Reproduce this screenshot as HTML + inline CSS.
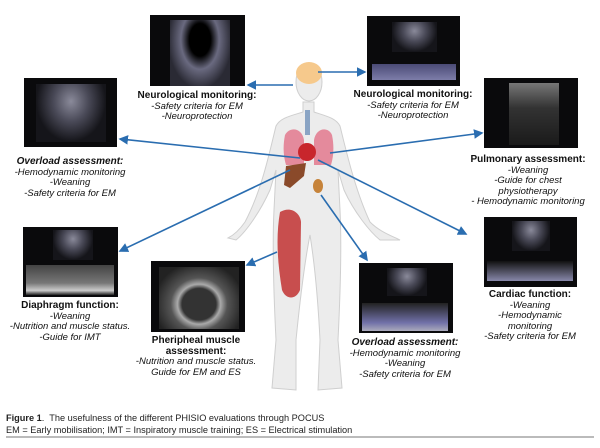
<!DOCTYPE html>
<html><head><meta charset="utf-8"><style>
html,body{margin:0;padding:0;background:#fff;}
#c{position:relative;width:600px;height:448px;overflow:hidden;background:#fff;font-family:"Liberation Sans",Arial,sans-serif;}
.img{position:absolute;background:#0a0a0c;overflow:hidden;}
.fan{position:absolute;background:radial-gradient(ellipse at 50% 30%,#8a8a9a 0%,#4a4a58 35%,#15151a 70%);}
.lbl{position:absolute;text-align:center;font-size:9.5px;line-height:10.6px;color:#111;font-style:italic;white-space:nowrap;}
.lbl b{font-style:normal;font-weight:bold;display:block;font-size:10px;}
.lbl b.i{font-style:italic;}
.cap{position:absolute;left:6px;font-size:9.2px;color:#222;}
</style></head><body><div id="c">

<!-- ultrasound images -->
<div class="img" style="left:150px;top:15px;width:95px;height:71px;">
 <div class="fan" style="left:20px;top:5px;width:60px;height:66px;background:radial-gradient(ellipse at 50% 30%,#000 0 25%,#6a6a80 45%,#2a2a34 75%);"></div></div>
<div class="img" style="left:367px;top:16px;width:93px;height:70px;">
 <div class="fan" style="left:25px;top:6px;width:45px;height:30px;"></div>
 <div style="position:absolute;left:5px;top:48px;width:84px;height:16px;background:linear-gradient(#5a5a90,#9a9ad0);opacity:.8"></div></div>
<div class="img" style="left:24px;top:78px;width:93px;height:69px;">
 <div class="fan" style="left:12px;top:6px;width:70px;height:58px;"></div></div>
<div class="img" style="left:484px;top:78px;width:94px;height:70px;">
 <div class="fan" style="left:25px;top:5px;width:50px;height:62px;background:linear-gradient(#777,#333 40%,#1a1a1a);"></div></div>
<div class="img" style="left:23px;top:227px;width:95px;height:70px;">
 <div class="fan" style="left:30px;top:3px;width:40px;height:30px;"></div>
 <div style="position:absolute;left:3px;top:38px;width:88px;height:30px;background:linear-gradient(#444,#777 60%,#ccc 85%,#222);"></div></div>
<div class="img" style="left:151px;top:261px;width:94px;height:71px;">
 <div class="fan" style="left:8px;top:6px;width:80px;height:62px;background:radial-gradient(ellipse at 50% 60%,#333 0 30%,#aaa 38%,#555 50%,#222 80%);"></div></div>
<div class="img" style="left:359px;top:263px;width:94px;height:70px;">
 <div class="fan" style="left:28px;top:5px;width:40px;height:28px;"></div>
 <div style="position:absolute;left:3px;top:40px;width:86px;height:28px;background:linear-gradient(#222,#7070a8 70%,#aab);"></div></div>
<div class="img" style="left:484px;top:217px;width:93px;height:70px;">
 <div class="fan" style="left:28px;top:4px;width:38px;height:30px;"></div>
 <div style="position:absolute;left:3px;top:44px;width:86px;height:20px;background:linear-gradient(#111,#8888aa);"></div></div>

<!-- body + arrows -->
<svg style="position:absolute;left:0;top:0" width="600" height="448">
 <defs><marker id="a" markerWidth="6" markerHeight="6" refX="5" refY="3" orient="auto"><path d="M0,0 L6,3 L0,6 z" fill="#2a6db0"/></marker></defs>
 <g fill="#ececec" stroke="#cfcfcf" stroke-width="1">
  <path d="M303,102 L303,112 C290,116 280,118 276,126 C270,150 262,190 245,222 C238,232 232,236 228,238 L236,240 C246,232 260,212 270,190 L276,170 L274,210 C272,250 274,300 276,340 L272,388 L296,390 L296,340 C300,300 305,260 310,235 C314,260 318,300 320,340 L318,390 L342,388 L338,340 C340,300 342,250 340,210 L338,170 L344,190 C354,212 370,232 380,240 L400,240 C392,236 380,232 370,222 C355,190 346,150 340,126 C336,118 326,116 314,112 L314,102 z"/>
  <ellipse cx="309" cy="82" rx="13" ry="19"/>
 </g>
 <ellipse cx="309" cy="73" rx="13" ry="11" fill="#f6c98c"/>
 <rect x="305" cy="0" y="110" width="5" height="25" fill="#8aa4c4"/>
 <path d="M285,135 C290,126 302,128 304,140 L304,165 L286,165 C283,155 283,145 285,135z" fill="#e48a9c"/>
 <path d="M332,135 C328,126 316,128 314,140 L314,165 L331,165 C334,155 334,145 332,135z" fill="#e48a9c"/>
 <ellipse cx="307" cy="152" rx="9" ry="9" fill="#c8262c"/>
 <path d="M286,166 L306,163 L304,176 L290,188 L284,185z" fill="#8a4a2a"/>
 <ellipse cx="318" cy="186" rx="5" ry="7" fill="#c6833a"/>
 <path d="M280,212 C290,206 300,212 301,222 L300,290 C296,300 286,300 282,290 C277,260 276,235 280,212z" fill="#c84e4e"/>
 <g stroke="#2a6db0" stroke-width="1.6" fill="none" marker-end="url(#a)">
  <line x1="293" y1="85" x2="248" y2="85"/>
  <line x1="318" y1="72" x2="365" y2="72"/>
  <line x1="300" y1="158" x2="120" y2="139"/>
  <line x1="330" y1="153" x2="482" y2="133"/>
  <line x1="290" y1="170" x2="120" y2="251"/>
  <line x1="277" y1="252" x2="247" y2="265"/>
  <line x1="321" y1="195" x2="367" y2="260"/>
  <line x1="318" y1="160" x2="466" y2="234"/>
 </g>
 <line x1="6" y1="437" x2="594" y2="437" stroke="#777" stroke-width="1"/>
</svg>

<!-- labels -->
<div class="lbl" style="left:197px;top:91px;transform:translateX(-50%)"><b>Neurological monitoring:</b>-Safety criteria for EM<br>-Neuroprotection</div>
<div class="lbl" style="left:413px;top:90px;transform:translateX(-50%)"><b>Neurological monitoring:</b>-Safety criteria for EM<br>-Neuroprotection</div>
<div class="lbl" style="left:70px;top:157px;transform:translateX(-50%)"><b class="i">Overload assessment:</b>-Hemodynamic monitoring<br>-Weaning<br>-Safety criteria for EM</div>
<div class="lbl" style="left:528px;top:155px;transform:translateX(-50%)"><b>Pulmonary assessment:</b>-Weaning<br>-Guide for chest<br>physiotherapy<br>- Hemodynamic monitoring</div>
<div class="lbl" style="left:70px;top:301px;transform:translateX(-50%)"><b>Diaphragm function:</b>-Weaning<br>-Nutrition and muscle status.<br>-Guide for IMT</div>
<div class="lbl" style="left:196px;top:336px;transform:translateX(-50%)"><b>Pheripheal muscle<br>assessment:</b>-Nutrition and muscle status.<br>Guide for EM and ES</div>
<div class="lbl" style="left:405px;top:338px;transform:translateX(-50%)"><b class="i">Overload assessment:</b>-Hemodynamic monitoring<br>-Weaning<br>-Safety criteria for EM</div>
<div class="lbl" style="left:530px;top:290px;transform:translateX(-50%)"><b>Cardiac function:</b>-Weaning<br>-Hemodynamic<br>monitoring<br>-Safety criteria for EM</div>

<div class="cap" style="top:413px;"><b>Figure 1</b>.&nbsp; The usefulness of the different PHISIO evaluations through POCUS</div>
<div class="cap" style="top:425px;">EM = Early mobilisation; IMT = Inspiratory muscle training; ES = Electrical stimulation</div>
</div></body></html>
